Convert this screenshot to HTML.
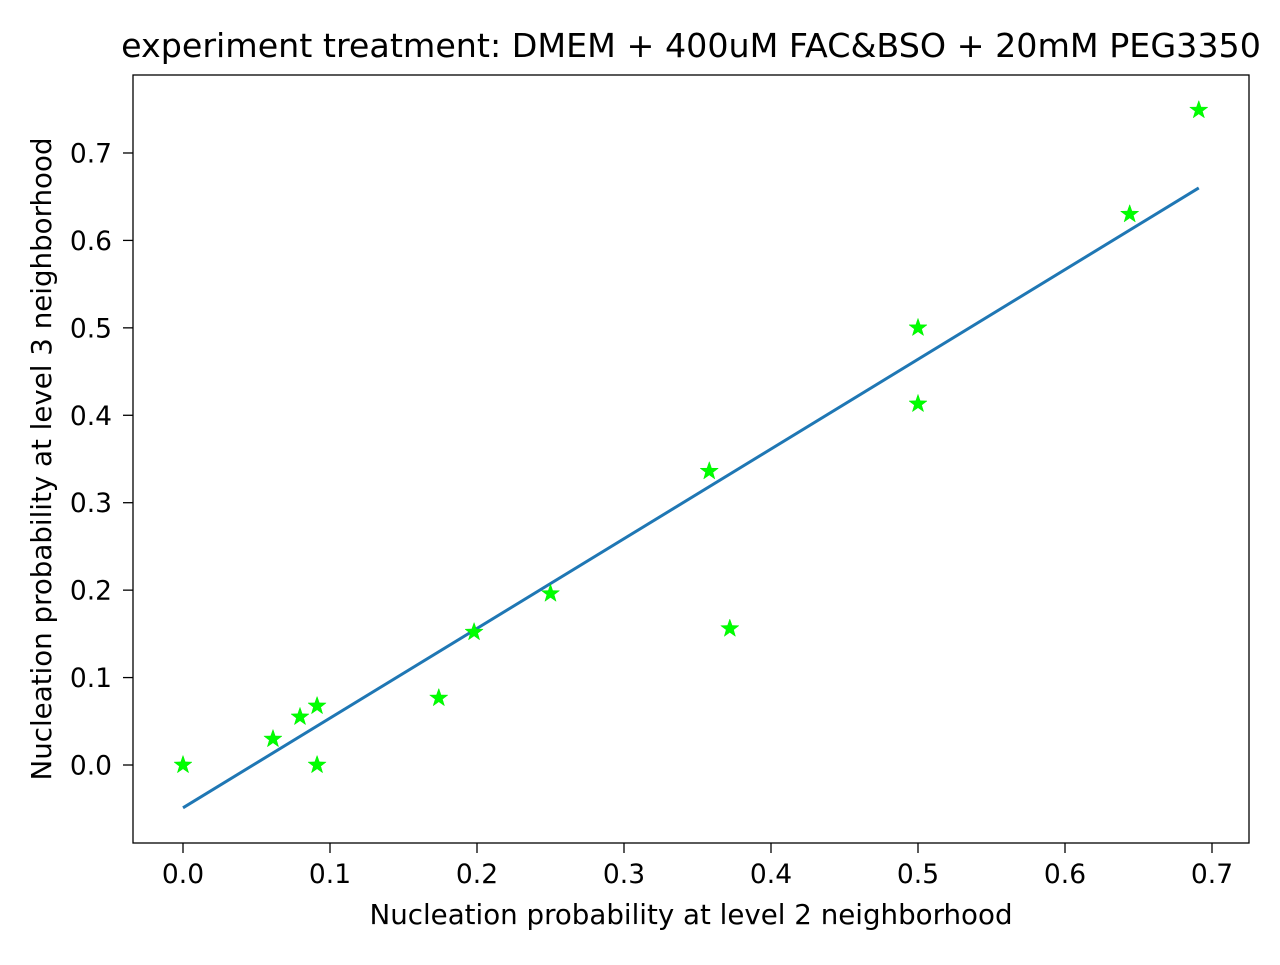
<!DOCTYPE html>
<html><head><meta charset="utf-8"><style>
body{margin:0;background:#fff}
svg text{font-family:"DejaVu Sans","Liberation Sans",sans-serif;fill:#000}
</style></head><body>
<svg id="chart" width="1280" height="960" xmlns="http://www.w3.org/2000/svg">
<rect x="0" y="0" width="1280" height="960" fill="#fff"/>
<text x="691" y="57" font-size="33.3" text-anchor="middle">experiment treatment: DMEM + 400uM FAC&amp;BSO + 20mM PEG3350</text>
<text x="691" y="924" font-size="27.7" text-anchor="middle">Nucleation probability at level 2 neighborhood</text>
<text transform="translate(51,459) rotate(-90)" font-size="27.7" text-anchor="middle">Nucleation probability at level 3 neighborhood</text>
<g id="ticks"></g>
<g id="marks"></g>
<rect x="133" y="75" width="1116" height="768" fill="none" stroke="#000" stroke-width="1.3"/>
</svg>
<script>
const xTicks=[0.0,0.1,0.2,0.3,0.4,0.5,0.6,0.7];
const yTicks=[0.0,0.1,0.2,0.3,0.4,0.5,0.6,0.7];
const xVals=[0,0.0612,0.0796,0.0912,0.0912,0.174,0.198,0.25,0.358,0.372,0.5,0.5,0.644,0.691];
const yVals=[0,0.0297,0.055,0.0675,0,0.0766,0.152,0.196,0.336,0.156,0.5,0.413,0.630,0.749];
const fitX=[0,0.691];
const fitY=[-0.049,0.66];
const sx=v=>183+v*1470;
const sy=v=>765-v*874.3;
const NS="http://www.w3.org/2000/svg";
const tg=document.getElementById('ticks'), mg=document.getElementById('marks');
function mk(tag,attrs,parent){const e=document.createElementNS(NS,tag);for(const k in attrs)e.setAttribute(k,attrs[k]);parent.appendChild(e);return e;}
xTicks.forEach(t=>{
  const l=mk('line',{x1:sx(t),x2:sx(t),y1:843,y2:853,stroke:'#000','stroke-width':1.3},tg);
  
  
  const tx=mk('text',{x:sx(t),y:883,'font-size':26.5,'text-anchor':'middle'},tg);
  tx.textContent=t.toFixed(1);
  
  
});
yTicks.forEach(t=>{
  const l=mk('line',{x1:123,x2:133,y1:sy(t),y2:sy(t),stroke:'#000','stroke-width':1.3},tg);
  
  
  const tx=mk('text',{x:112,y:sy(t)+9.5,'font-size':26.5,'text-anchor':'end'},tg);
  tx.textContent=t.toFixed(1);
  
  
});
const fl=mk('line',{x1:sx(fitX[0]),y1:sy(fitY[0]),x2:sx(fitX[1]),y2:sy(fitY[1]),stroke:'#1f77b4','stroke-width':3},mg);


function star(cx,cy,R){const r=R*0.4;let p=[];for(let i=0;i<10;i++){const a=-Math.PI/2+i*Math.PI/5;const rr=i%2?r:R;p.push((cx+rr*Math.cos(a)).toFixed(1)+','+(cy+rr*Math.sin(a)).toFixed(1));}return p.join(' ');}
xVals.forEach((v,i)=>{
  const s=mk('polygon',{points:star(sx(v),sy(yVals[i]),9.5),fill:'#00ff00',stroke:'#00ee00','stroke-width':0.5},mg);
  
  
});
</script>
</body></html>
